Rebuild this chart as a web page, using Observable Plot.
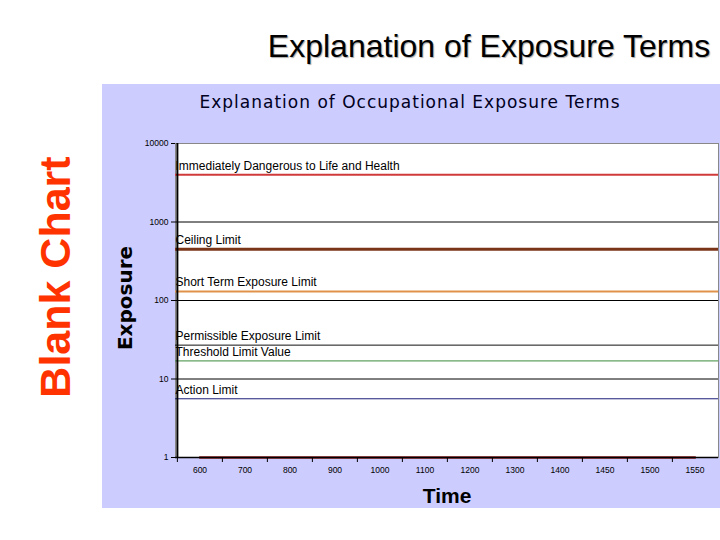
<!DOCTYPE html>
<html>
<head>
<meta charset="utf-8">
<script src="https://cdn.jsdelivr.net/npm/d3@7"></script>
<script src="https://cdn.jsdelivr.net/npm/@observablehq/plot@0.6"></script>
<style>
  html, body { margin: 0; padding: 0; background: #fff; }
  #page { position: relative; width: 720px; height: 540px; overflow: hidden; font-family: "Liberation Sans", Arial, sans-serif; }
  #side { position: absolute; left: 55px; top: 277px; transform: translate(-50%, -50%) rotate(-90deg); white-space: nowrap;
          font: bold 43px "Liberation Sans", Arial, sans-serif; color: #ff3300; }
  #title { position: absolute; left: 489px; top: 46px; transform: translate(-50%, -50%); white-space: nowrap;
           font: 32px "Liberation Sans", Arial, sans-serif; color: #000; text-shadow: 1px 1px 1px #aaa; }
  #panel { position: absolute; left: 102px; top: 84px; width: 618px; height: 424px; background: #ccccff; }
  #inner { position: absolute; left: 308px; top: 18px; transform: translate(-50%, -50%); white-space: nowrap;
           font: 17px "DejaVu Sans", Verdana, sans-serif; letter-spacing: 1px; color: #000022; }
  #ylab { position: absolute; left: 23px; top: 214px; transform: translate(-50%, -50%) rotate(-90deg); white-space: nowrap;
          font: bold 20px "DejaVu Sans", Verdana, sans-serif; color: #000; }
  #xlab { position: absolute; left: 345px; top: 412px; transform: translate(-50%, -50%); white-space: nowrap;
          font: bold 21px "Liberation Sans", Arial, sans-serif; color: #000; }
  #chart { position: absolute; left: 0; top: 0; }
</style>
</head>
<body>
<div id="page">
  <div id="side">Blank Chart</div>
  <div id="title">Explanation of Exposure Terms</div>
  <div id="panel">
    <div id="chart"></div>
    <div id="inner">Explanation of Occupational Exposure Terms</div>
    <div id="ylab">Exposure</div>
    <div id="xlab">Time</div>
  </div>
</div>
<script>
// Categories on the time axis
const times = ["600", "700", "800", "900", "1000", "1100", "1200", "1300", "1400", "1450", "1500", "1550"];
// Measured exposure series (sits on the baseline)
const exposure = [1, 1, 1, 1, 1, 1, 1, 1, 1, 1, 1, 1];
// Limit lines
const limitNames = ["Immediately Dangerous to Life and Health", "Ceiling Limit", "Short Term Exposure Limit",
                    "Permissible Exposure Limit", "Threshold Limit Value", "Action Limit"];
const limitValues = [4000, 450, 130, 27, 17, 5.6];
const limitColors = ["#d03a3a", "#7a3418", "#e0924a", "#111111", "#3a8a3a", "#1c1c78"];
const limitWidths = [2, 3, 2, 1, 1, 1];
// Y tick values
const yTicks = [1, 10, 100, 1000, 10000];

const series = times.map((t, i) => ({time: t, value: exposure[i]}));
const limits = limitNames.map((n, i) => ({name: n, value: limitValues[i], color: limitColors[i], width: limitWidths[i]}));

const W = 618, H = 424, mL = 73, mR = 2, mT = 59, mB = 51;
const band = (W - mL - mR) / times.length;

const chart = Plot.plot({
  width: W, height: H,
  marginLeft: mL, marginRight: mR, marginTop: mT, marginBottom: mB,
  style: {background: "transparent", overflow: "visible"},
  x: {type: "band", domain: times, padding: 0, label: null},
  y: {type: "log", domain: [1, 10000], label: null},
  marks: [
    Plot.frame({fill: "#ffffff", stroke: "#888888"}),
    Plot.gridY(yTicks.slice(1, 4), {stroke: "#000", strokeOpacity: 1, strokeWidth: 1}),
    Plot.ruleY(limits, {y: "value", stroke: "color", strokeWidth: "width"}),
    Plot.text(limits, {y: "value", text: "name", frameAnchor: "left", textAnchor: "start", dx: 0, dy: -9,
      fontSize: 12, fill: "#000", fontFamily: "Liberation Sans, Arial, sans-serif"}),
    Plot.line(series, {x: "time", y: "value", stroke: "#8b1a1a", strokeWidth: 2.5}),
    Plot.axisY({ticks: yTicks, tickFormat: d => String(d), tickSize: 4, tickPadding: 3, fontSize: 8.5,
      fontFamily: "Liberation Sans, Arial, sans-serif", stroke: "#000", fill: "#000", label: null}),
    Plot.axisX({tickSize: 5, dx: -band / 2, text: null, stroke: "#000", label: null}),
    Plot.axisX({tickSize: 0, tickPadding: 9, fontSize: 8.5, fontFamily: "Liberation Sans, Arial, sans-serif", fill: "#000", label: null}),
    Plot.ruleY([1], {stroke: "#000", strokeWidth: 1.5}),
    Plot.ruleX([times[0]], {dx: -band / 2, stroke: "#000", strokeWidth: 2})
  ]
});
document.getElementById("chart").appendChild(chart);
</script>
</body>
</html>
